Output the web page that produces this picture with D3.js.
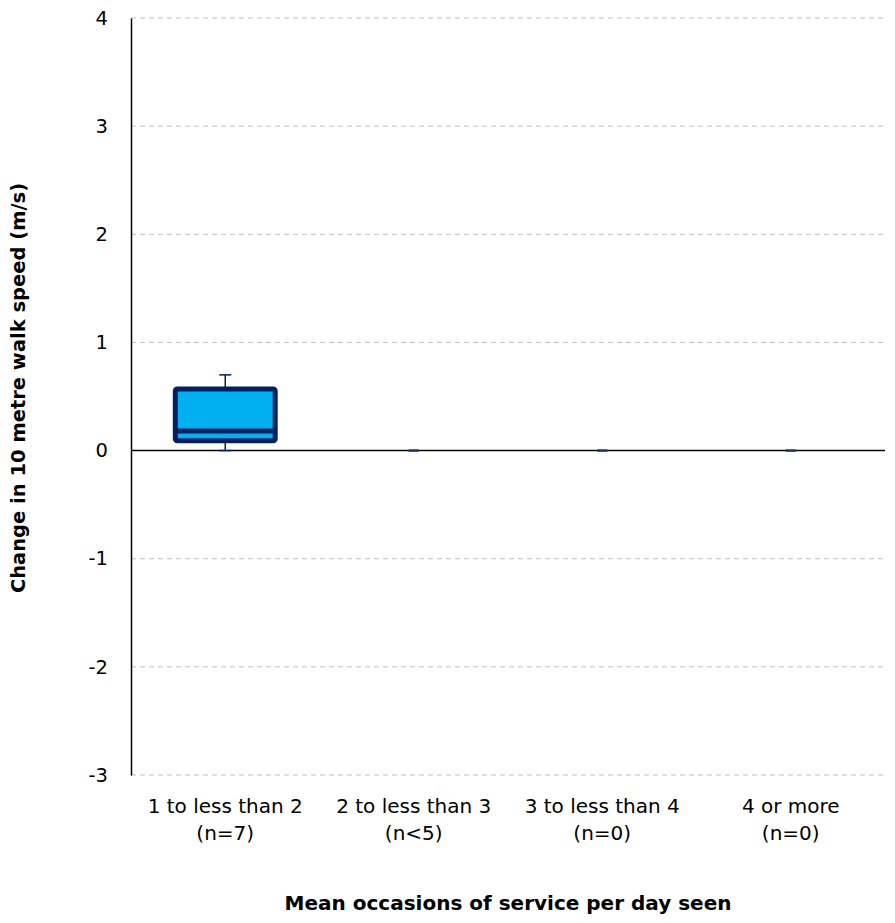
<!DOCTYPE html>
<html>
<head>
<meta charset="utf-8">
<script src="https://cdn.jsdelivr.net/npm/d3@7"></script>
<style>
  body { margin: 0; background: #fff; }
  svg { font-family: "DejaVu Sans", "Noto Sans", sans-serif; }
</style>
</head>
<body>
<svg id="chart"></svg>
<script>
// データ
const categories = ["1 to less than 2", "2 to less than 3", "3 to less than 4", "4 or more"];
const counts = ["(n=7)", "(n<5)", "(n=0)", "(n=0)"];
const whiskerLow = [0, 0, 0, 0];
const q1 = [0.09, 0, 0, 0];
const median = [0.18, 0, 0, 0];
const q3 = [0.57, 0, 0, 0];
const whiskerHigh = [0.70, 0, 0, 0];
const yTicks = [-3, -2, -1, 0, 1, 2, 3, 4];

const width = 895;
const height = 923;
const margin = {left: 131, right: 10, top: 18, bottom: 148};

var svg = d3.select("#chart")
            .attr("width", width)
            .attr("height", height);

var x = d3.scaleBand()
            .domain(categories)
            .range([margin.left, width - margin.right]);

var y = d3.scaleLinear()
            .domain([-3, 4])
            .range([height - margin.bottom, margin.top]);

// グリッド線
svg.append("g")
    .selectAll("line")
    .data(yTicks.filter(function(d) {return d != 0;}))
    .enter().append("line")
    .attr("x1", margin.left)
    .attr("x2", width - margin.right)
    .attr("y1", function(d) {return y(d);})
    .attr("y2", function(d) {return y(d);})
    .attr("stroke", "#bfbfbf")
    .attr("stroke-width", 1)
    .attr("stroke-dasharray", "5,4");

// Y軸
var yAxis = svg.append("g")
    .attr("transform", "translate(" + margin.left + ",0)")
    .call(d3.axisLeft(y).tickValues(yTicks).tickSize(0).tickPadding(23).tickFormat(function(d) {return String(d);}));
yAxis.select(".domain").attr("stroke", "#000").attr("stroke-width", 1.5);
yAxis.selectAll("text")
    .attr("font-size", 19.5)
    .attr("font-family", "DejaVu Sans, sans-serif")
    .attr("fill", "#000");

// ゼロ線
svg.append("line")
    .attr("x1", margin.left)
    .attr("x2", width - margin.right)
    .attr("y1", y(0))
    .attr("y2", y(0))
    .attr("stroke", "#000")
    .attr("stroke-width", 1.5);

// 箱ひげ図
var data = categories.map(function(c, i) {
    return {cat: c, lo: whiskerLow[i], q1: q1[i], med: median[i], q3: q3[i], hi: whiskerHigh[i]};
});
var boxW = x.bandwidth() * 0.53;
var dashW = 10;

var boxes = svg.append("g").selectAll("g")
    .data(data)
    .enter().append("g")
    .attr("transform", function(d) {return "translate(" + (x(d.cat) + x.bandwidth() / 2) + ",0)";});

// ひげ
boxes.filter(function(d) {return d.hi > d.lo;})
    .each(function(d) {
        var g = d3.select(this);
        g.append("line")
            .attr("x1", 0).attr("x2", 0)
            .attr("y1", y(d.q3)).attr("y2", y(d.hi))
            .attr("stroke", "#002060").attr("stroke-width", 1.5);
        g.append("line")
            .attr("x1", -6).attr("x2", 6)
            .attr("y1", y(d.hi)).attr("y2", y(d.hi))
            .attr("stroke", "#002060").attr("stroke-width", 1.5);
        g.append("line")
            .attr("x1", 0).attr("x2", 0)
            .attr("y1", y(d.q1)).attr("y2", y(d.lo))
            .attr("stroke", "#002060").attr("stroke-width", 1.5);
        g.append("line")
            .attr("x1", -6).attr("x2", 6)
            .attr("y1", y(d.lo)).attr("y2", y(d.lo))
            .attr("stroke", "#002060").attr("stroke-width", 1.5);
        g.append("rect")
            .attr("x", -boxW / 2)
            .attr("y", y(d.q3))
            .attr("width", boxW)
            .attr("height", y(d.q1) - y(d.q3))
            .attr("rx", 2)
            .attr("fill", "#00b0f0")
            .attr("stroke", "#002060")
            .attr("stroke-width", 5);
        g.append("line")
            .attr("x1", -boxW / 2).attr("x2", boxW / 2)
            .attr("y1", y(d.med)).attr("y2", y(d.med))
            .attr("stroke", "#002060").attr("stroke-width", 5);
    });

// 値がゼロのカテゴリ
boxes.filter(function(d) {return d.hi == d.lo;})
    .append("line")
    .attr("x1", -dashW / 2).attr("x2", dashW / 2)
    .attr("y1", function(d) {return y(d.med);})
    .attr("y2", function(d) {return y(d.med);})
    .attr("stroke", "#1f3864")
    .attr("stroke-width", 2.5);

// X軸ラベル
var xl = svg.append("g").selectAll("text")
    .data(categories)
    .enter().append("text")
    .attr("x", function(d) {return x(d) + x.bandwidth() / 2;})
    .attr("y", height - margin.bottom + 38)
    .attr("text-anchor", "middle")
    .attr("font-size", 20)
    .attr("fill", "#000");
xl.append("tspan").text(function(d) {return d;});
xl.append("tspan")
    .attr("x", function(d) {return x(d) + x.bandwidth() / 2;})
    .attr("dy", 27)
    .text(function(d, i) {return counts[i];});

// 軸タイトル
svg.append("text")
    .attr("x", (margin.left + width - margin.right) / 2)
    .attr("y", 910)
    .attr("text-anchor", "middle")
    .attr("font-size", 20)
    .attr("font-weight", "bold")
    .text("Mean occasions of service per day seen");

svg.append("text")
    .attr("transform", "translate(25,388) rotate(-90)")
    .attr("text-anchor", "middle")
    .attr("font-size", 19.5)
    .attr("font-weight", "bold")
    .text("Change in 10 metre walk speed (m/s)");
</script>
</body>
</html>
